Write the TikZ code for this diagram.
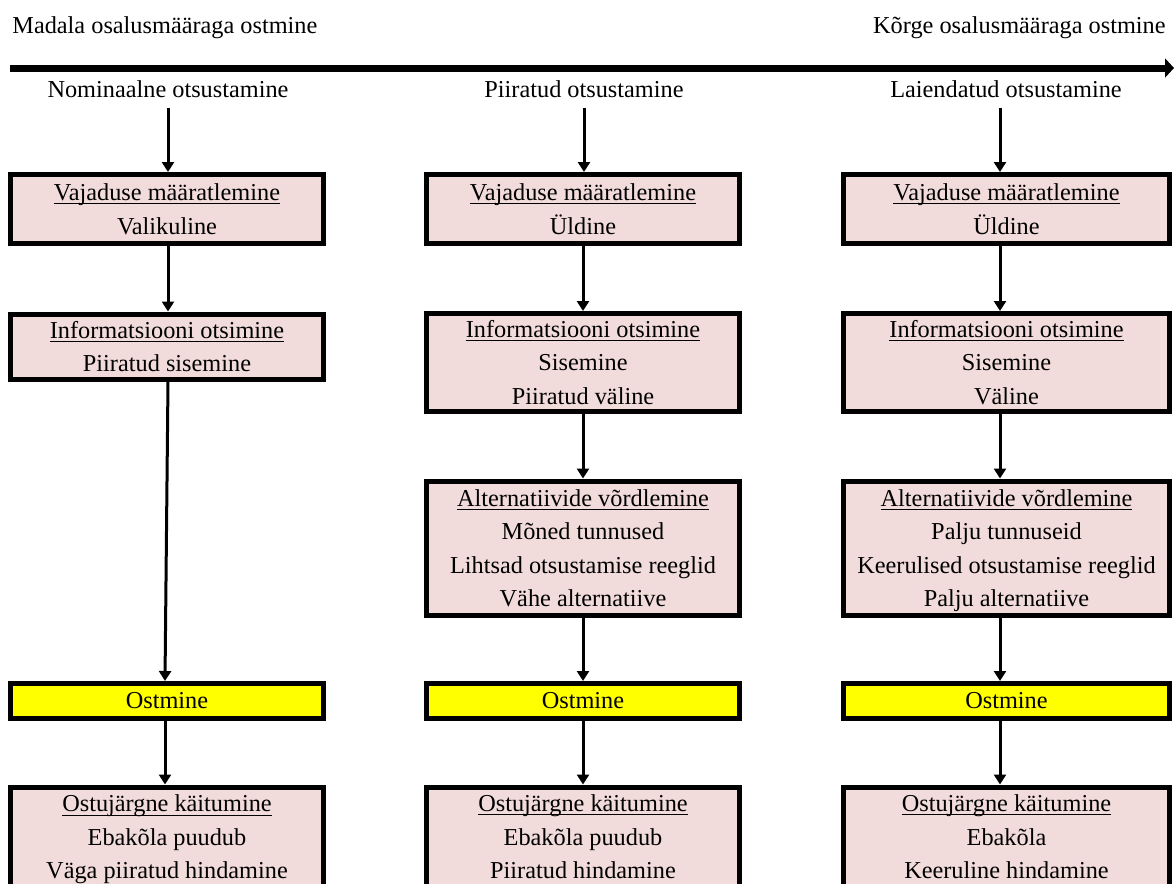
\documentclass[tikz,border=0pt]{standalone}
\usepackage{fontspec}
\setmainfont{Liberation Serif}
\usetikzlibrary{arrows.meta}
\definecolor{boxpink}{HTML}{F2DCDB}
\definecolor{buyyellow}{HTML}{FFFF00}
% underlined stage title: a thin rule set just below the baseline
\newsavebox{\stageheadbox}
\newcommand{\stagehead}[1]{\sbox{\stageheadbox}{#1}%
  \rlap{\rule[-1.8pt]{\wd\stageheadbox}{0.5pt}}\usebox{\stageheadbox}}

\begin{document}
\begin{tikzpicture}[x=0.5pt,y=-0.5pt,
  every node/.style={font=\fontsize{12.15}{16.75}\selectfont, inner sep=0pt},
  stagebox/.style={draw, line width=2.5pt, fill=boxpink, align=center},
  buybox/.style={draw, line width=2.5pt, fill=buyyellow, align=center, minimum height=17.5pt},
  narrowcol/.style={minimum width=156.5pt},
  widecol/.style={minimum width=163pt},
  flow/.style={line width=1.5pt, -{Triangle[length=5pt,width=6pt]}},
  axis/.style={line width=3.5pt, -{Triangle[length=4.5pt,width=9.5pt]}},
]
\clip (0,0) rectangle (1174,884);

% involvement axis
\node[anchor=base west] (lowtxt) at (12,33) {Madala osalusmääraga ostmine};
\node[anchor=base east] (hightxt) at (1166,33) {Kõrge osalusmääraga ostmine};
\coordinate (axL) at (10,68);
\coordinate (axR) at (1174,68);
\draw[axis] (axL) -- (axR);

% column headings
\node[anchor=base] (h1) at (168,97) {Nominaalne otsustamine};
\node[anchor=base] (h2) at (584,97) {Piiratud otsustamine};
\node[anchor=base] (h3) at (1006,97) {Laiendatud otsustamine};

% column 1: nominal decision making
\node[stagebox, narrowcol, minimum height=34.5pt] (v1) at (167,209)
  {\stagehead{Vajaduse määratlemine}\\Valikuline};
\node[stagebox, narrowcol, minimum height=32.5pt] (i1) at (167,346.5)
  {\stagehead{Informatsiooni otsimine}\\Piiratud sisemine};
\node[buybox, narrowcol] (o1) at (167,701) {Ostmine};
\node[stagebox, narrowcol, minimum height=65pt, anchor=north] (p1) at (167,784.5) {};
\node[align=center] (p1t) at (167,837)
  {\stagehead{Ostujärgne käitumine}\\Ebakõla puudub\\\smash{Väga piiratud hindamine}};

% column 2: limited decision making
\node[stagebox, narrowcol, minimum height=34.5pt] (v2) at (583,209)
  {\stagehead{Vajaduse määratlemine}\\Üldine};
\node[stagebox, narrowcol, minimum height=49pt] (i2) at (583,362.5)
  {\stagehead{Informatsiooni otsimine}\\Sisemine\\Piiratud väline};
\node[stagebox, narrowcol, minimum height=67pt] (a2) at (583,548)
  {\stagehead{Alternatiivide võrdlemine}\\Mõned tunnused\\Lihtsad otsustamise reeglid\\Vähe alternatiive};
\node[buybox, narrowcol] (o2) at (583,701) {Ostmine};
\node[stagebox, narrowcol, minimum height=65pt, anchor=north] (p2) at (583,784.5) {};
\node[align=center] (p2t) at (583,837)
  {\stagehead{Ostujärgne käitumine}\\Ebakõla puudub\\Piiratud hindamine};

% column 3: extended decision making
\node[stagebox, widecol, minimum height=34.5pt] (v3) at (1006.5,209)
  {\stagehead{Vajaduse määratlemine}\\Üldine};
\node[stagebox, widecol, minimum height=49pt] (i3) at (1006.5,362.5)
  {\stagehead{Informatsiooni otsimine}\\Sisemine\\Väline};
\node[stagebox, widecol, minimum height=67pt] (a3) at (1006.5,548)
  {\stagehead{Alternatiivide võrdlemine}\\Palju tunnuseid\\Keerulised otsustamise reeglid\\\smash{Palju alternatiive}};
\node[buybox, widecol] (o3) at (1006.5,701) {Ostmine};
\node[stagebox, widecol, minimum height=65pt, anchor=north] (p3) at (1006.5,784.5) {};
\node[align=center] (p3t) at (1006.5,837)
  {\stagehead{Ostujärgne käitumine}\\Ebakõla\\Keeruline hindamine};

% connectors, column 1
\draw[flow] ([yshift=-5pt]h1.south) -- (h1.south |- v1.north);
\draw[flow] ([xshift=0.5pt]v1.south) -- ([xshift=0.5pt]i1.north);
\draw[flow] ([xshift=0.5pt]i1.south) -- ([xshift=-1pt]o1.north);
\draw[flow] ([xshift=-1pt]o1.south) -- ([xshift=-1pt]p1.north);

% connectors, column 2
\draw[flow] ([yshift=-5pt]h2.south) -- (h2.south |- v2.north);
\draw[flow] (v2.south) -- (i2.north);
\draw[flow] (i2.south) -- (a2.north);
\draw[flow] (a2.south) -- (o2.north);
\draw[flow] (o2.south) -- (p2.north);

% connectors, column 3
\draw[flow] ([xshift=-3pt,yshift=-5pt]h3.south) -- ([xshift=-3.25pt]v3.north);
\draw[flow] ([xshift=-3.25pt]v3.south) -- ([xshift=-3.25pt]i3.north);
\draw[flow] ([xshift=-3.25pt]i3.south) -- ([xshift=-3.25pt]a3.north);
\draw[flow] ([xshift=-3.25pt]a3.south) -- ([xshift=-3.25pt]o3.north);
\draw[flow] ([xshift=-3.25pt]o3.south) -- ([xshift=-3.25pt]p3.north);
\end{tikzpicture}
\end{document}
